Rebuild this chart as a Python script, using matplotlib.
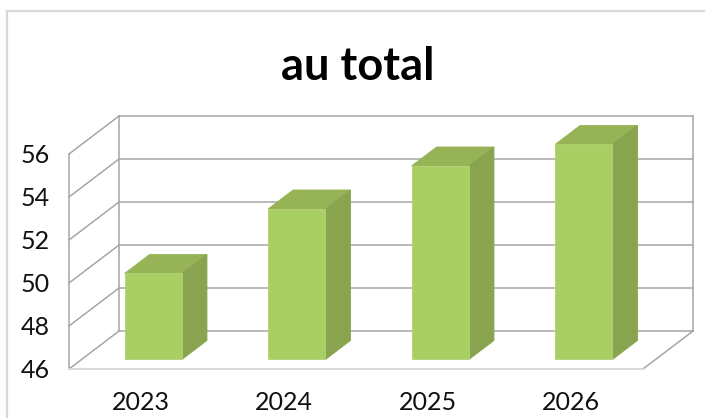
import matplotlib
matplotlib.use("Agg")
import matplotlib.pyplot as plt
from matplotlib.lines import Line2D

categories = ["2023", "2024", "2025", "2026"]
values = [50, 53, 55, 56]
y_ticks = [46, 48, 50, 52, 54, 56]
title = "au total"

W, H = 705, 418
FRONT_L, BACK_R = 69, 693
FLOOR_Y, TOP_Y = 369, 116
PX_CAT = 143.5
PX_UNIT = 21.5
DEPTH_PX_X, DEPTH_PX_Y = 50, 38
DX = DEPTH_PX_X / PX_CAT
DY = DEPTH_PX_Y / PX_UNIT
BAR_W = 0.4
D0, D1 = 0.25, 0.75

GRID = "#a6a6a6"
FLOOR_EDGE = "#d9d9d9"
FRONT = "#a9ce63"
TOP = "#96b356"
SIDE = "#88a44e"
EDGE = "#b4d076"

plt.rcParams["font.family"] = ["Lato", "DejaVu Sans"]
fig = plt.figure(figsize=(W / 100, H / 100), dpi=100)
ax = fig.add_axes([FRONT_L / W, 1 - FLOOR_Y / H, (BACK_R - FRONT_L) / W, (FLOOR_Y - TOP_Y) / H])
ax.set_xlim(0, len(categories) + DX)
ax.set_ylim(y_ticks[0], y_ticks[0] + (FLOOR_Y - TOP_Y) / PX_UNIT)
for s in ax.spines.values():
    s.set_visible(False)
ax.patch.set_alpha(0)


def P(x, y, d):
    return x + DX * d, y + DY * d


def seg(a, b, color=GRID, lw=1.1, z=1):
    ax.plot([a[0], b[0]], [a[1], b[1]], color=color, lw=lw, zorder=z,
            solid_capstyle="projecting", clip_on=False)


n = len(categories)
base = y_ticks[0]
top = y_ticks[-1]
for t in y_ticks:
    seg(P(0, t, 0), P(0, t, 1))
    seg(P(0, t, 1), P(n, t, 1))
seg(P(0, base, 0), P(0, top, 0))
seg(P(0, base, 1), P(0, top, 1))
seg(P(n, base, 1), P(n, top, 1))
seg(P(n, base, 0), P(n, base, 1))
seg(P(0, base, 0), P(n, base, 0), color=FLOOR_EDGE, lw=1.4)

for i, v in enumerate(values):
    xl = i + 0.5 - BAR_W / 2
    xr = i + 0.5 + BAR_W / 2
    ax.fill(*zip(P(xl, v, D0), P(xr, v, D0), P(xr, v, D1), P(xl, v, D1)),
            color=TOP, lw=0.6, ec=TOP, zorder=3 + i)
    ax.fill(*zip(P(xr, base, D0), P(xr, v, D0), P(xr, v, D1), P(xr, base, D1)),
            color=SIDE, lw=0.6, ec=SIDE, zorder=3 + i)
    cx, by = P(i + 0.5, base, D0)
    ax.bar(cx, v - base, bottom=by, width=BAR_W, color=FRONT,
           edgecolor=EDGE, linewidth=0.6, zorder=3.5 + i)

ax.set_xticks([i + 0.5 for i in range(n)], categories)
ax.set_yticks(y_ticks, [str(t) for t in y_ticks])
ax.tick_params(axis="both", length=0, labelsize=18, labelcolor="#111111")
ax.tick_params(axis="y", pad=14)
ax.tick_params(axis="x", pad=16)

fig.text(358 / W, 1 - 67 / H, title, ha="center", va="center",
         fontsize=32.5, fontweight="bold", color="#000000")

fig.add_artist(Line2D([6.5 / W, 6.5 / W], [0, 1 - 11 / H], color=FLOOR_EDGE, lw=1.6))
fig.add_artist(Line2D([6.5 / W, 1], [1 - 11 / H, 1 - 11 / H], color=FLOOR_EDGE, lw=1.6))

fig.savefig("out.png", dpi=100, facecolor="white")
